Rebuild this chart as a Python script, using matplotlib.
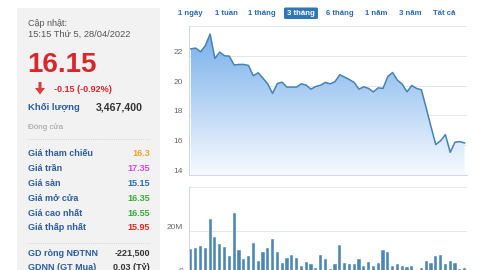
import matplotlib
matplotlib.use("Agg")
import matplotlib.pyplot as plt
import numpy as np
from matplotlib.patches import Rectangle, Polygon, FancyBboxPatch
from matplotlib.lines import Line2D
from matplotlib.ticker import FuncFormatter

plt.rcParams['font.family'] = ['Liberation Sans', 'DejaVu Sans']

# dữ liệu (3 tháng)
gia = [22.47, 22.52, 22.27, 22.68, 23.46, 21.82, 22.25, 22.0, 21.98, 21.38,
       21.42, 21.42, 21.35, 20.66, 20.86, 20.5, 20.12, 19.47, 20.14, 20.23,
       19.9, 19.9, 19.9, 20.12, 20.03, 19.76, 19.94, 20.03, 20.21, 20.12,
       20.26, 20.73, 20.57, 20.41, 20.21, 19.76, 19.92, 19.81, 19.58, 19.85,
       19.81, 20.61, 20.88, 20.37, 20.1, 19.58, 20.01, 19.81, 19.72, 18.5,
       17.25, 16.04, 16.3, 16.71, 15.52, 16.2, 16.24, 16.15]
khoi_luong = [11.8, 12.1, 13.3, 12.1, 25.6, 17.3, 13.9, 12.9, 8.6, 28.2,
              11.2, 7.4, 8.6, 14.4, 6.5, 10.6, 12.4, 16.2, 10.3, 5.3,
              7.7, 8.9, 7.7, 4.2, 5.9, 4.8, 3.3, 9.2, 7.4, 2.9,
              4.8, 13.5, 5.5, 5.0, 4.8, 7.1, 4.1, 5.9, 3.9, 5.5,
              11.2, 10.3, 4.2, 4.8, 4.1, 3.5, 4.2, 1.8, 3.0, 6.5,
              5.6, 8.6, 9.2, 4.8, 6.2, 5.5, 2.9, 3.3]  # triệu CP
nut = ["1 ngày", "1 tuần", "1 tháng", "3 tháng", "6 tháng", "1 năm", "3 năm", "Tất cả"]
nut_x = [190, 226, 262, 301, 340, 376, 410, 444]
nut_chon = "3 tháng"

thong_tin = [("Giá tham chiếu", "16.3", "#f0a030"),
             ("Giá trần", "17.35", "#e040e0"),
             ("Giá sàn", "15.15", "#2d6bb0"),
             ("Giá mở cửa", "16.35", "#3aaa35"),
             ("Giá cao nhất", "16.55", "#3aaa35"),
             ("Giá thấp nhất", "15.95", "#e02424")]
gd_nn = [("GD ròng NĐTNN", "-221,500"), ("GDNN (GT Mua)", "0.03 (Tỷ)")]

W, H = 480, 270
fig = plt.figure(figsize=(4.8, 2.7), dpi=100)

def px(x, y):
    return x / W, 1 - y / H

def txt(x, y, s, **kw):
    fx, fy = px(x, y)
    kw.setdefault("va", "center")
    fig.text(fx, fy, s, **kw)

# khung xám bên trái
fig.patches.append(Rectangle(px(17, 270), 143 / W, 262 / H, transform=fig.transFigure,
                             facecolor="#f2f2f2", edgecolor="none", zorder=0))

xanh_chu = "#2b5d9e"
txt(28, 24, "Cập nhật:", fontsize=6.5, color="#555555")
txt(28, 34, "15:15 Thứ 5, 28/04/2022", fontsize=6.7, color="#555555")
txt(27, 65, "16.15", fontsize=20, color="#d8262c", fontweight="bold")
mui_ten = [(38.5, 82), (41.5, 82), (41.5, 88), (45, 88), (40, 94.5), (35, 88), (38.5, 88)]
fig.patches.append(Polygon([px(a, b) for a, b in mui_ten], closed=True, transform=fig.transFigure,
                           facecolor="#e0393e", edgecolor="none"))
txt(54, 89, "-0.15 (-0.92%)", fontsize=6.5, color="#d8262c", fontweight="bold")
txt(28, 108, "Khối lượng", fontsize=6.8, color=xanh_chu, fontweight="bold")
txt(143, 107.5, "3,467,400", fontsize=7.6, color="#333333", fontweight="bold", ha="right")
txt(28, 127, "Đóng cửa", fontsize=5.8, color="#999999")

for yy in (139, 243):
    x0, y0 = px(28, yy)
    x1, _ = px(150, yy)
    fig.lines.append(Line2D([x0, x1], [y0, y0], transform=fig.transFigure,
                            color="#cccccc", lw=0.6, ls=(0, (1, 1.5))))

for i, (ten, gt, mau) in enumerate(thong_tin):
    y = 154 + i * 14.8
    txt(28, y, ten, fontsize=6.5, color=xanh_chu, fontweight="bold")
    txt(150, y, gt, fontsize=6.5, color=mau, fontweight="bold", ha="right")

for i, (ten, gt) in enumerate(gd_nn):
    y = 253 + i * 15
    txt(28, y, ten, fontsize=6.5, color=xanh_chu, fontweight="bold")
    txt(150, y, gt, fontsize=6.5, color="#333333", fontweight="bold", ha="right")

# các nút thời gian
for s, xc in zip(nut, nut_x):
    if s == nut_chon:
        fig.patches.append(FancyBboxPatch(px(284, 19), 34 / W, 11.5 / H,
                                          boxstyle="round,pad=0,rounding_size=0.004",
                                          transform=fig.transFigure,
                                          facecolor="#2f77b8", edgecolor="none"))
        txt(xc, 13.3, s, fontsize=5.6, color="white", fontweight="bold", ha="center")
    else:
        txt(xc, 13.3, s, fontsize=5.6, color="#2a68b0", fontweight="bold", ha="center")

x = np.arange(len(gia))
xanh_line = "#4583b5"
luoi = "#e6e6e6"
truc = "#ccd6eb"

# biểu đồ giá
ax = fig.add_axes([188.5 / W, 1 - 175 / H, 278.5 / W, 149 / H])
ax.set_xlim(-0.5, len(gia) - 0.5)
ax.set_ylim(14, 24)
for v in (16, 18, 20, 22, 24):
    ax.axhline(v, color=luoi, lw=0.7, zorder=0)
poly = ax.fill_between(x, gia, 14, color="none")
grad = np.linspace(0, 1, 256).reshape(-1, 1)
c_top = np.array([0.47, 0.69, 0.92])
c_bot = np.array([0.97, 0.98, 1.0])
img = c_bot + (c_top - c_bot) * grad[::-1] ** 1.0
img = np.repeat(img[:, :, None], 1, axis=2).transpose(0, 2, 1)
im = ax.imshow(img.reshape(256, 1, 3), aspect="auto", extent=[-0.5, len(gia) - 0.5, 14, 23.5],
               origin="upper", zorder=1)
im.set_clip_path(poly.get_paths()[0], transform=ax.transData)
ax.plot(x, gia, color=xanh_line, lw=1.1, zorder=3, solid_joinstyle="round")
ax.set_yticks([14, 16, 18, 20, 22])
ax.set_xticks([])
ax.tick_params(axis="y", length=0, pad=4, labelsize=6, labelcolor="#666666")
plt.setp(ax.get_yticklabels(), va="bottom")
for k in ("top", "right"):
    ax.spines[k].set_visible(False)
ax.spines["left"].set_color(truc)
ax.spines["bottom"].set_color(truc)
ax.spines["left"].set_linewidth(0.7)
ax.spines["bottom"].set_linewidth(0.7)
ax.set_facecolor("none")

# biểu đồ khối lượng
ax2 = fig.add_axes([188.5 / W, 1 - 275 / H, 278.5 / W, 88 / H])
ax2.set_xlim(-0.5, len(gia) - 0.5)
ax2.set_ylim(0, 40e6)
for v in (20e6, 40e6):
    ax2.axhline(v, color=luoi, lw=0.7, zorder=0)
ax2.bar(x, np.array(khoi_luong) * 1e6, width=0.66, color="#4a87b6",
        edgecolor="white", linewidth=0.3, zorder=2)
ax2.set_yticks([0, 20e6])
ax2.yaxis.set_major_formatter(FuncFormatter(lambda v, p: "0" if v == 0 else f"{v/1e6:.0f}M"))
ax2.set_xticks([])
ax2.tick_params(axis="y", length=0, pad=4, labelsize=6, labelcolor="#666666")
plt.setp(ax2.get_yticklabels(), va="bottom")
for k in ("top", "right", "bottom"):
    ax2.spines[k].set_visible(False)
ax2.spines["left"].set_color(truc)
ax2.spines["left"].set_linewidth(0.7)
ax2.set_facecolor("none")

fig.savefig("out.png", dpi=100)
